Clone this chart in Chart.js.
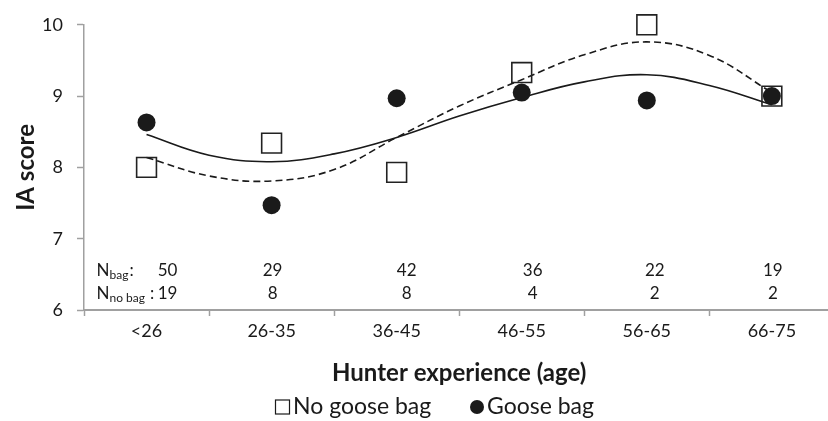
<!DOCTYPE html>
<html lang="en">
  <head>
    <meta charset="UTF-8" />
    <title>IA score by hunter experience</title>
    <style>
      html,
      body {
        margin: 0;
        padding: 0;
        background: #fff;
        overflow: hidden;
      }
      .wrap {
        width: 850px;
        height: 421px;
      }
    </style>
  </head>
  <body>
    <div class="wrap">
      <canvas id="myChart" width="850" height="421"></canvas>
    </div>
    <script src="https://cdn.jsdelivr.net/npm/chart.js@4.4.0/dist/chart.umd.min.js"></script>
    <script>
      // data
      const ageGroups = ["<26", "26-35", "36-45", "46-55", "56-65", "66-75"];
      const noBagScore = [8.0, 8.34, 7.93, 9.33, 10.0, 9.0];
      const bagScore = [8.63, 7.47, 8.97, 9.05, 8.94, 9.0];
      const nBag = [50, 29, 42, 36, 22, 19];
      const nNoBag = [19, 8, 8, 4, 2, 2];

      // trend lines, read every half category
      const trendX = [0.5, 1, 1.5, 2, 2.5, 3, 3.5, 4, 4.5, 5, 5.5];
      const trendBag = [8.46, 8.17, 8.08, 8.19, 8.42, 8.72, 8.98, 9.2, 9.3, 9.15, 8.88];
      const trendNoBag = [8.14, 7.88, 7.81, 7.97, 8.42, 8.86, 9.23, 9.58, 9.76, 9.57, 9.05];

      const yMin = 6;
      const yMax = 10;

      const FONT = "Lato, 'Open Sans', sans-serif";
      const INK = "#1a1a1a";
      const AXIS = "#a0a0a0";

      // small horizontal nudges of the N labels (px), as in the figure
      const nNudge = [21, 1, 10, 11, 8, 1];

      const toPoints = (arr, xs) =>
        arr.map((v, i) => ({ x: xs ? xs[i] : i + 0.5, y: v }));

      // draws the N rows and the legend
      const extrasPlugin = {
        id: "extras",
        afterDraw(chart) {
          const ctx = chart.ctx;
          const x = chart.scales.x;
          const y = chart.scales.y;
          const row1 = y.getPixelForValue(6.554);
          const row2 = y.getPixelForValue(6.235);

          ctx.save();
          ctx.fillStyle = INK;
          ctx.textBaseline = "middle";

          // N labels
          const lx = x.getPixelForValue(0.1);
          ctx.textAlign = "left";
          ctx.font = "17px " + FONT;
          ctx.fillText("N", lx, row1);
          let w = ctx.measureText("N").width;
          ctx.font = "12px " + FONT;
          ctx.fillText("bag", lx + w, row1 + 5);
          let w2 = ctx.measureText("bag").width;
          ctx.font = "17px " + FONT;
          ctx.fillText(":", lx + w + w2 + 1, row1);

          ctx.fillText("N", lx, row2);
          ctx.font = "12px " + FONT;
          ctx.fillText("no bag", lx + w, row2 + 5);
          w2 = ctx.measureText("no bag").width;
          ctx.font = "17px " + FONT;
          ctx.fillText(":", lx + w + w2 + 5, row2);

          ctx.textAlign = "center";
          nBag.forEach((n, i) => {
            const px = x.getPixelForValue(i + 0.5) + nNudge[i];
            ctx.fillText(String(n), px, row1);
            ctx.fillText(String(nNoBag[i]), px, row2);
          });

          // legend
          const ly = 407;
          ctx.textAlign = "left";
          ctx.font = "23px " + FONT;
          ctx.strokeStyle = INK;
          ctx.lineWidth = 1.2;
          ctx.strokeRect(275.5, ly - 7, 14, 14);
          ctx.fillText("No goose bag", 293, ly);
          ctx.beginPath();
          ctx.arc(477, ly, 7, 0, Math.PI * 2);
          ctx.fill();
          ctx.fillText("Goose bag", 487, ly);
          ctx.restore();
        },
      };

      const myChart = new Chart(document.getElementById("myChart"), {
        type: "scatter",
        data: {
          datasets: [
            {
              label: "Goose bag",
              data: toPoints(bagScore),
              pointStyle: "circle",
              pointRadius: 9,
              pointHoverRadius: 9,
              backgroundColor: INK,
              borderColor: INK,
              borderWidth: 0,
              clip: false,
            },
            {
              label: "No goose bag",
              data: toPoints(noBagScore),
              pointStyle: "rect",
              pointRadius: 14,
              pointHoverRadius: 14,
              backgroundColor: "rgba(0,0,0,0)",
              borderColor: "#222",
              borderWidth: 1.6,
              clip: false,
            },
            {
              type: "line",
              label: "Goose bag trend",
              data: toPoints(trendBag, trendX),
              borderColor: INK,
              borderWidth: 1.6,
              pointRadius: 0,
              tension: 0.4,
              fill: false,
            },
            {
              type: "line",
              label: "No goose bag trend",
              data: toPoints(trendNoBag, trendX),
              borderColor: INK,
              borderWidth: 1.6,
              borderDash: [7, 4],
              pointRadius: 0,
              tension: 0.4,
              fill: false,
            },
          ],
        },
        options: {
          responsive: false,
          animation: false,
          layout: {
            padding: { top: 21, right: 10, bottom: 0, left: 0 },
          },
          plugins: {
            legend: { display: false },
            tooltip: { enabled: false },
          },
          scales: {
            x: {
              type: "linear",
              min: 0,
              max: 6,
              afterFit: (scale) => {
                scale.height = 111;
              },
              border: { color: AXIS, width: 2 },
              grid: {
                drawOnChartArea: false,
                drawTicks: true,
                tickLength: 6,
                tickWidth: 1.5,
                tickColor: (c) =>
                  c.tick && Number.isInteger(c.tick.value) ? AXIS : "rgba(0,0,0,0)",
              },
              ticks: {
                stepSize: 0.5,
                autoSkip: false,
                maxRotation: 0,
                padding: 4,
                color: INK,
                font: { family: FONT, size: 18 },
                callback: (v) => {
                  const i = v - 0.5;
                  return Number.isInteger(i) && ageGroups[i] ? ageGroups[i] : "";
                },
              },
              title: {
                display: true,
                text: "Hunter experience (age)",
                color: INK,
                font: { family: FONT, size: 24, weight: "bold" },
                padding: { top: 0, bottom: 33 },
              },
            },
            y: {
              min: yMin,
              max: yMax,
              afterFit: (scale) => {
                scale.width = 84;
              },
              border: { color: AXIS, width: 1.5 },
              grid: {
                drawOnChartArea: false,
                drawTicks: true,
                tickLength: 7,
                tickWidth: 1.5,
                tickColor: AXIS,
              },
              ticks: {
                stepSize: 1,
                padding: 14,
                color: INK,
                font: { family: FONT, size: 18 },
              },
              title: {
                display: true,
                text: "IA score",
                color: INK,
                font: { family: FONT, size: 24, weight: "bold" },
                padding: { top: 12, bottom: 0 },
              },
            },
          },
        },
        plugins: [extrasPlugin],
      });
    </script>
  </body>
</html>
